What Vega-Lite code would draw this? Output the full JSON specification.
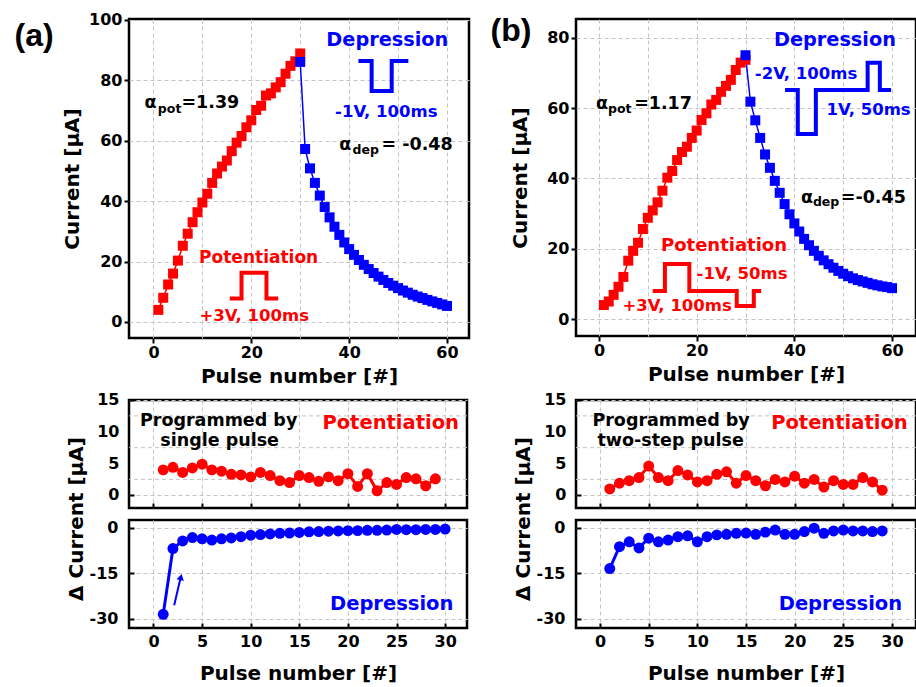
{
  "$schema": "https://vega.github.io/schema/vega-lite/v6.json",
  "background": "white",
  "padding": {"left": 13, "top": 10, "right": 2, "bottom": 2},
  "config": {
    "font": "DejaVu Sans",
    "view": {"stroke": "black", "strokeWidth": 2.5},
    "axis": {"domain": false, "grid": true, "gridColor": "#c4c4c4", "gridDash": [4, 3], "gridWidth": 1,
      "labelFont": "DejaVu Sans", "labelFontWeight": "bold", "labelFontSize": 16, "labelColor": "black",
      "titleFont": "DejaVu Sans", "titleFontWeight": "bold", "titleFontSize": 20, "titleColor": "black",
      "tickColor": "black", "tickWidth": 2, "labelFlush": false, "labelOverlap": false},
    "text": {"font": "DejaVu Sans", "fontWeight": "bold"}
  },
  "datasets": {
    "minor_grid": [{"g": 2.5}, {"g": 7.5}, {"g": 12.5}],
    "ylab_upper": [{"v": 0}, {"v": 5}, {"v": 10}, {"v": 15}],
    "a_main": [
      {"pulse":1,"current":4.0,"phase":"Potentiation"},{"pulse":2,"current":8.0,"phase":"Potentiation"},{"pulse":3,"current":12.4,"phase":"Potentiation"},{"pulse":4,"current":16.0,"phase":"Potentiation"},{"pulse":5,"current":20.3,"phase":"Potentiation"},{"pulse":6,"current":25.2,"phase":"Potentiation"},{"pulse":7,"current":29.2,"phase":"Potentiation"},{"pulse":8,"current":33.0,"phase":"Potentiation"},{"pulse":9,"current":36.3,"phase":"Potentiation"},{"pulse":10,"current":39.5,"phase":"Potentiation"},
      {"pulse":11,"current":42.4,"phase":"Potentiation"},{"pulse":12,"current":46.0,"phase":"Potentiation"},{"pulse":13,"current":49.1,"phase":"Potentiation"},{"pulse":14,"current":51.4,"phase":"Potentiation"},{"pulse":15,"current":53.4,"phase":"Potentiation"},{"pulse":16,"current":56.5,"phase":"Potentiation"},{"pulse":17,"current":59.3,"phase":"Potentiation"},{"pulse":18,"current":61.5,"phase":"Potentiation"},{"pulse":19,"current":64.4,"phase":"Potentiation"},{"pulse":20,"current":66.7,"phase":"Potentiation"},
      {"pulse":21,"current":70.1,"phase":"Potentiation"},{"pulse":22,"current":71.5,"phase":"Potentiation"},{"pulse":23,"current":74.9,"phase":"Potentiation"},{"pulse":24,"current":75.6,"phase":"Potentiation"},{"pulse":25,"current":77.6,"phase":"Potentiation"},{"pulse":26,"current":79.3,"phase":"Potentiation"},{"pulse":27,"current":82.1,"phase":"Potentiation"},{"pulse":28,"current":84.7,"phase":"Potentiation"},{"pulse":29,"current":86.2,"phase":"Potentiation"},{"pulse":30,"current":88.8,"phase":"Potentiation"},
      {"pulse":30,"current":86.0,"phase":"Depression"},{"pulse":31,"current":57.2,"phase":"Depression"},{"pulse":32,"current":50.8,"phase":"Depression"},{"pulse":33,"current":46.0,"phase":"Depression"},{"pulse":34,"current":41.8,"phase":"Depression"},{"pulse":35,"current":38.0,"phase":"Depression"},{"pulse":36,"current":34.6,"phase":"Depression"},{"pulse":37,"current":31.5,"phase":"Depression"},{"pulse":38,"current":28.8,"phase":"Depression"},{"pulse":39,"current":26.3,"phase":"Depression"},
      {"pulse":40,"current":24.1,"phase":"Depression"},{"pulse":41,"current":22.2,"phase":"Depression"},{"pulse":42,"current":20.5,"phase":"Depression"},{"pulse":43,"current":18.9,"phase":"Depression"},{"pulse":44,"current":17.5,"phase":"Depression"},{"pulse":45,"current":16.2,"phase":"Depression"},{"pulse":46,"current":15.0,"phase":"Depression"},{"pulse":47,"current":13.9,"phase":"Depression"},{"pulse":48,"current":12.9,"phase":"Depression"},{"pulse":49,"current":12.0,"phase":"Depression"},
      {"pulse":50,"current":11.2,"phase":"Depression"},{"pulse":51,"current":10.4,"phase":"Depression"},{"pulse":52,"current":9.7,"phase":"Depression"},{"pulse":53,"current":9.0,"phase":"Depression"},{"pulse":54,"current":8.4,"phase":"Depression"},{"pulse":55,"current":7.9,"phase":"Depression"},{"pulse":56,"current":7.3,"phase":"Depression"},{"pulse":57,"current":6.8,"phase":"Depression"},{"pulse":58,"current":6.3,"phase":"Depression"},{"pulse":59,"current":5.8,"phase":"Depression"},{"pulse":60,"current":5.3,"phase":"Depression"}
    ],
    "b_main": [
      {"pulse":1,"current":4.0,"phase":"Potentiation"},{"pulse":2,"current":5.0,"phase":"Potentiation"},{"pulse":3,"current":6.9,"phase":"Potentiation"},{"pulse":4,"current":9.2,"phase":"Potentiation"},{"pulse":5,"current":12.0,"phase":"Potentiation"},{"pulse":6,"current":16.6,"phase":"Potentiation"},{"pulse":7,"current":19.4,"phase":"Potentiation"},{"pulse":8,"current":21.7,"phase":"Potentiation"},{"pulse":9,"current":25.6,"phase":"Potentiation"},{"pulse":10,"current":28.8,"phase":"Potentiation"},
      {"pulse":11,"current":30.9,"phase":"Potentiation"},{"pulse":12,"current":33.2,"phase":"Potentiation"},{"pulse":13,"current":36.5,"phase":"Potentiation"},{"pulse":14,"current":40.2,"phase":"Potentiation"},{"pulse":15,"current":42.1,"phase":"Potentiation"},{"pulse":16,"current":45.2,"phase":"Potentiation"},{"pulse":17,"current":47.5,"phase":"Potentiation"},{"pulse":18,"current":49.0,"phase":"Potentiation"},{"pulse":19,"current":51.5,"phase":"Potentiation"},{"pulse":20,"current":53.6,"phase":"Potentiation"},
      {"pulse":21,"current":56.6,"phase":"Potentiation"},{"pulse":22,"current":58.5,"phase":"Potentiation"},{"pulse":23,"current":61.0,"phase":"Potentiation"},{"pulse":24,"current":62.3,"phase":"Potentiation"},{"pulse":25,"current":64.6,"phase":"Potentiation"},{"pulse":26,"current":66.3,"phase":"Potentiation"},{"pulse":27,"current":68.0,"phase":"Potentiation"},{"pulse":28,"current":70.8,"phase":"Potentiation"},{"pulse":29,"current":72.9,"phase":"Potentiation"},{"pulse":30,"current":73.7,"phase":"Potentiation"},
      {"pulse":30,"current":75.0,"phase":"Depression"},{"pulse":31,"current":61.8,"phase":"Depression"},{"pulse":32,"current":56.5,"phase":"Depression"},{"pulse":33,"current":51.5,"phase":"Depression"},{"pulse":34,"current":46.8,"phase":"Depression"},{"pulse":35,"current":43.0,"phase":"Depression"},{"pulse":36,"current":39.3,"phase":"Depression"},{"pulse":37,"current":35.9,"phase":"Depression"},{"pulse":38,"current":32.7,"phase":"Depression"},{"pulse":39,"current":29.8,"phase":"Depression"},
      {"pulse":40,"current":27.2,"phase":"Depression"},{"pulse":41,"current":24.9,"phase":"Depression"},{"pulse":42,"current":22.8,"phase":"Depression"},{"pulse":43,"current":21.0,"phase":"Depression"},{"pulse":44,"current":19.4,"phase":"Depression"},{"pulse":45,"current":18.0,"phase":"Depression"},{"pulse":46,"current":16.7,"phase":"Depression"},{"pulse":47,"current":15.6,"phase":"Depression"},{"pulse":48,"current":14.6,"phase":"Depression"},{"pulse":49,"current":13.7,"phase":"Depression"},
      {"pulse":50,"current":12.9,"phase":"Depression"},{"pulse":51,"current":12.2,"phase":"Depression"},{"pulse":52,"current":11.6,"phase":"Depression"},{"pulse":53,"current":11.1,"phase":"Depression"},{"pulse":54,"current":10.7,"phase":"Depression"},{"pulse":55,"current":10.3,"phase":"Depression"},{"pulse":56,"current":9.9,"phase":"Depression"},{"pulse":57,"current":9.6,"phase":"Depression"},{"pulse":58,"current":9.3,"phase":"Depression"},{"pulse":59,"current":9.1,"phase":"Depression"},{"pulse":60,"current":8.8,"phase":"Depression"}
    ],
    "a_pot": [
      {"pulse":1,"delta":4.0},{"pulse":2,"delta":4.4},{"pulse":3,"delta":3.6},{"pulse":4,"delta":4.3},{"pulse":5,"delta":4.9},{"pulse":6,"delta":4.0},{"pulse":7,"delta":3.8},{"pulse":8,"delta":3.3},{"pulse":9,"delta":3.2},{"pulse":10,"delta":2.9},
      {"pulse":11,"delta":3.6},{"pulse":12,"delta":3.1},{"pulse":13,"delta":2.3},{"pulse":14,"delta":2.0},{"pulse":15,"delta":3.1},{"pulse":16,"delta":2.8},{"pulse":17,"delta":2.2},{"pulse":18,"delta":2.9},{"pulse":19,"delta":2.3},{"pulse":20,"delta":3.4},
      {"pulse":21,"delta":1.4},{"pulse":22,"delta":3.4},{"pulse":23,"delta":0.7},{"pulse":24,"delta":2.0},{"pulse":25,"delta":1.7},{"pulse":26,"delta":2.8},{"pulse":27,"delta":2.6},{"pulse":28,"delta":1.5},{"pulse":29,"delta":2.6}
    ],
    "a_dep": [
      {"pulse":1,"delta":-28.5},{"pulse":2,"delta":-6.8},{"pulse":3,"delta":-4.3},{"pulse":4,"delta":-3.2},{"pulse":5,"delta":-3.6},{"pulse":6,"delta":-4.0},{"pulse":7,"delta":-3.6},{"pulse":8,"delta":-3.3},{"pulse":9,"delta":-2.9},{"pulse":10,"delta":-2.4},
      {"pulse":11,"delta":-2.2},{"pulse":12,"delta":-2.0},{"pulse":13,"delta":-1.8},{"pulse":14,"delta":-1.7},{"pulse":15,"delta":-1.5},{"pulse":16,"delta":-1.3},{"pulse":17,"delta":-1.2},{"pulse":18,"delta":-1.1},{"pulse":19,"delta":-1.0},{"pulse":20,"delta":-0.9},
      {"pulse":21,"delta":-0.9},{"pulse":22,"delta":-0.8},{"pulse":23,"delta":-0.8},{"pulse":24,"delta":-0.7},{"pulse":25,"delta":-0.5},{"pulse":26,"delta":-0.6},{"pulse":27,"delta":-0.6},{"pulse":28,"delta":-0.5},{"pulse":29,"delta":-0.5},{"pulse":30,"delta":-0.4}
    ],
    "b_pot": [
      {"pulse":1,"delta":1.0},{"pulse":2,"delta":1.9},{"pulse":3,"delta":2.3},{"pulse":4,"delta":2.8},{"pulse":5,"delta":4.6},{"pulse":6,"delta":2.8},{"pulse":7,"delta":2.3},{"pulse":8,"delta":3.9},{"pulse":9,"delta":3.2},{"pulse":10,"delta":2.1},
      {"pulse":11,"delta":2.3},{"pulse":12,"delta":3.3},{"pulse":13,"delta":3.7},{"pulse":14,"delta":1.9},{"pulse":15,"delta":3.1},{"pulse":16,"delta":2.3},{"pulse":17,"delta":1.5},{"pulse":18,"delta":2.5},{"pulse":19,"delta":2.1},{"pulse":20,"delta":3.0},
      {"pulse":21,"delta":1.9},{"pulse":22,"delta":2.5},{"pulse":23,"delta":1.3},{"pulse":24,"delta":2.3},{"pulse":25,"delta":1.7},{"pulse":26,"delta":1.7},{"pulse":27,"delta":2.8},{"pulse":28,"delta":2.1},{"pulse":29,"delta":0.8}
    ],
    "b_dep": [
      {"pulse":1,"delta":-13.4},{"pulse":2,"delta":-6.2},{"pulse":3,"delta":-4.6},{"pulse":4,"delta":-6.6},{"pulse":5,"delta":-3.4},{"pulse":6,"delta":-4.6},{"pulse":7,"delta":-4.0},{"pulse":8,"delta":-2.9},{"pulse":9,"delta":-2.6},{"pulse":10,"delta":-4.6},
      {"pulse":11,"delta":-2.9},{"pulse":12,"delta":-2.3},{"pulse":13,"delta":-2.1},{"pulse":14,"delta":-1.8},{"pulse":15,"delta":-1.7},{"pulse":16,"delta":-2.1},{"pulse":17,"delta":-1.4},{"pulse":18,"delta":-0.7},{"pulse":19,"delta":-2.1},{"pulse":20,"delta":-2.1},
      {"pulse":21,"delta":-1.2},{"pulse":22,"delta":-0.1},{"pulse":23,"delta":-1.8},{"pulse":24,"delta":-1.0},{"pulse":25,"delta":-0.7},{"pulse":26,"delta":-1.0},{"pulse":27,"delta":-1.0},{"pulse":28,"delta":-1.2},{"pulse":29,"delta":-1.0}
    ]
  },
  "hconcat": [
    {
      "vconcat": [
        {
          "width": 340, "height": 319,
          "data": {"name": "a_main"},
          "layer": [
            {"mark": {"type": "line", "strokeWidth": 1.5},
             "encoding": {
               "x": {"field": "pulse", "type": "quantitative", "scale": {"domain": [-5, 64.5], "nice": false, "zero": false},
                     "axis": {"values": [0,10,20,30,40,50,60], "labelExpr": "datum.value % 20 === 0 ? datum.label : ''", "labelOverlap": false, "tickOpacity": {"condition": {"test": "datum.value % 20 === 0", "value": 1}, "value": 0}, "tickSize": 5, "labelPadding": 1, "title": "Pulse number [#]", "titlePadding": 6}},
               "y": {"field": "current", "type": "quantitative", "scale": {"domain": [-5.3, 100.2], "nice": false, "zero": false},
                     "axis": {"values": [0,10,20,30,40,50,60,70,80,90,100], "labelExpr": "datum.value % 20 === 0 ? datum.label : ''", "labelOverlap": false, "tickOpacity": {"condition": {"test": "datum.value % 20 === 0", "value": 1}, "value": 0}, "tickSize": 5, "labelPadding": 2, "title": "Current [μA]", "titlePadding": 6}},
               "color": {"field": "phase", "type": "nominal", "scale": {"domain": ["Potentiation", "Depression"], "range": ["#ff0000", "#0000ff"]}, "legend": null}
             }},
            {"mark": {"type": "point", "shape": "square", "filled": true, "size": 100, "opacity": 1},
             "encoding": {
               "x": {"field": "pulse", "type": "quantitative"},
               "y": {"field": "current", "type": "quantitative"},
               "color": {"field": "phase", "type": "nominal", "legend": null}
             }},
            {"data": {"values": [{"px": 41.9, "py": 86.3, "o": 1}, {"px": 44.6, "py": 86.3, "o": 2}, {"px": 44.6, "py": 76.4, "o": 3}, {"px": 48.7, "py": 76.4, "o": 4}, {"px": 48.7, "py": 86.3, "o": 5}, {"px": 52.1, "py": 86.3, "o": 6}]},
             "mark": {"type": "line", "color": "#0000ff", "strokeWidth": 4, "strokeJoin": "miter", "strokeCap": "butt"},
             "encoding": {"x": {"field": "px", "type": "quantitative"}, "y": {"field": "py", "type": "quantitative"}, "order": {"field": "o"}}},
            {"data": {"values": [{"px": 15.6, "py": 7.8, "o": 1}, {"px": 18.0, "py": 7.8, "o": 2}, {"px": 18.0, "py": 16.3, "o": 3}, {"px": 23.1, "py": 16.3, "o": 4}, {"px": 23.1, "py": 7.8, "o": 5}, {"px": 25.5, "py": 7.8, "o": 6}]},
             "mark": {"type": "line", "color": "#ff0000", "strokeWidth": 4, "strokeJoin": "miter", "strokeCap": "butt"},
             "encoding": {"x": {"field": "px", "type": "quantitative"}, "y": {"field": "py", "type": "quantitative"}, "order": {"field": "o"}}},
            {"data": {"values": [{}]}, "mark": {"type": "text", "text": "(a)", "font": "Liberation Sans", "fontSize": 32, "color": "black", "align": "center", "baseline": "middle"},
             "encoding": {"x": {"datum": -24.4, "type": "quantitative"}, "y": {"datum": 94.6, "type": "quantitative"}}},
            {"data": {"values": [{}]}, "mark": {"type": "text", "text": "α", "fontSize": 17.5, "color": "black", "align": "left", "baseline": "alphabetic"},
             "encoding": {"x": {"datum": -1.84, "type": "quantitative"}, "y": {"datum": 70.9, "type": "quantitative"}}},
            {"data": {"values": [{}]}, "mark": {"type": "text", "text": "pot", "fontSize": 12.5, "color": "black", "align": "left", "baseline": "alphabetic"},
             "encoding": {"x": {"datum": 0.9, "type": "quantitative"}, "y": {"datum": 69.1, "type": "quantitative"}}},
            {"data": {"values": [{}]}, "mark": {"type": "text", "text": "=1.39", "fontSize": 17.5, "color": "black", "align": "left", "baseline": "alphabetic"},
             "encoding": {"x": {"datum": 5.72, "type": "quantitative"}, "y": {"datum": 70.9, "type": "quantitative"}}},
            {"data": {"values": [{}]}, "mark": {"type": "text", "text": "α", "fontSize": 17.5, "color": "black", "align": "left", "baseline": "alphabetic"},
             "encoding": {"x": {"datum": 38.0, "type": "quantitative"}, "y": {"datum": 56.9, "type": "quantitative"}}},
            {"data": {"values": [{}]}, "mark": {"type": "text", "text": "dep", "fontSize": 12.5, "color": "black", "align": "left", "baseline": "alphabetic"},
             "encoding": {"x": {"datum": 40.7, "type": "quantitative"}, "y": {"datum": 55.6, "type": "quantitative"}}},
            {"data": {"values": [{}]}, "mark": {"type": "text", "text": "= -0.48", "fontSize": 17.5, "color": "black", "align": "left", "baseline": "alphabetic"},
             "encoding": {"x": {"datum": 46.6, "type": "quantitative"}, "y": {"datum": 56.9, "type": "quantitative"}}},
            {"data": {"values": [{}]}, "mark": {"type": "text", "text": "Depression", "fontSize": 19.3, "color": "#0000ff", "align": "center", "baseline": "alphabetic"},
             "encoding": {"x": {"datum": 47.8, "type": "quantitative"}, "y": {"datum": 91.3, "type": "quantitative"}}},
            {"data": {"values": [{}]}, "mark": {"type": "text", "text": "-1V, 100ms", "fontSize": 16.5, "color": "#0000ff", "align": "center", "baseline": "alphabetic"},
             "encoding": {"x": {"datum": 47.6, "type": "quantitative"}, "y": {"datum": 67.8, "type": "quantitative"}}},
            {"data": {"values": [{}]}, "mark": {"type": "text", "text": "Potentiation", "fontSize": 17, "color": "#ff0000", "align": "center", "baseline": "alphabetic"},
             "encoding": {"x": {"datum": 21.5, "type": "quantitative"}, "y": {"datum": 19.5, "type": "quantitative"}}},
            {"data": {"values": [{}]}, "mark": {"type": "text", "text": "+3V, 100ms", "fontSize": 16.5, "color": "#ff0000", "align": "center", "baseline": "alphabetic"},
             "encoding": {"x": {"datum": 20.6, "type": "quantitative"}, "y": {"datum": 0.3, "type": "quantitative"}}}
          ]
        },
        {
          "vconcat": [
            {
              "width": 338, "height": 108,
              "data": {"name": "a_pot"},
              "layer": [
                {"data": {"name": "minor_grid"}, "mark": {"type": "rule", "color": "#c4c4c4", "strokeDash": [4, 3], "strokeWidth": 1},
                 "encoding": {"y": {"field": "g", "type": "quantitative"}}},
                {"mark": {"type": "line", "color": "#ff0000", "strokeWidth": 3},
                 "encoding": {
                   "x": {"field": "pulse", "type": "quantitative", "scale": {"domain": [-2.52, 32.25], "nice": false, "zero": false},
                         "axis": {"values": [0,2.5,5,7.5,10,12.5,15,17.5,20,22.5,25,27.5,30], "labels": false, "tickOpacity": {"condition": {"test": "datum.value % 5 === 0", "value": 1}, "value": 0}, "tickSize": -5, "title": null}},
                   "y": {"field": "delta", "type": "quantitative", "scale": {"domain": [-2, 15], "nice": false, "zero": false},
                         "axis": {"values": [0,5,10,15], "labels": false, "tickSize": -5, "title": null}}
                 }},
                {"mark": {"type": "circle", "color": "#ff0000", "size": 120, "opacity": 1},
                 "encoding": {"x": {"field": "pulse", "type": "quantitative"}, "y": {"field": "delta", "type": "quantitative"}}},
                {"data": {"name": "ylab_upper"}, "mark": {"type": "text", "fontSize": 16, "color": "black", "align": "right", "baseline": "middle"},
                 "encoding": {"x": {"datum": -3.5, "type": "quantitative"}, "y": {"field": "v", "type": "quantitative"}, "text": {"field": "v", "type": "quantitative", "format": "d"}}},
                {"data": {"values": [{}]}, "mark": {"type": "text", "text": "Δ Current [μA]", "fontSize": 20, "color": "black", "align": "center", "baseline": "middle", "angle": 270},
                 "encoding": {"x": {"datum": -7.9, "type": "quantitative"}, "y": {"datum": -3.73, "type": "quantitative"}}},
                {"data": {"values": [{}]}, "mark": {"type": "text", "text": "Programmed by", "fontSize": 17.5, "color": "black", "align": "center", "baseline": "alphabetic"},
                 "encoding": {"x": {"datum": 6.7, "type": "quantitative"}, "y": {"datum": 10.9, "type": "quantitative"}}},
                {"data": {"values": [{}]}, "mark": {"type": "text", "text": "single pulse", "fontSize": 17.5, "color": "black", "align": "center", "baseline": "alphabetic"},
                 "encoding": {"x": {"datum": 6.8, "type": "quantitative"}, "y": {"datum": 7.8, "type": "quantitative"}}},
                {"data": {"values": [{}]}, "mark": {"type": "text", "text": "Potentiation", "fontSize": 19.5, "color": "#ff0000", "align": "center", "baseline": "alphabetic"},
                 "encoding": {"x": {"datum": 24.4, "type": "quantitative"}, "y": {"datum": 10.4, "type": "quantitative"}}}
              ]
            },
            {
              "width": 338, "height": 108,
              "data": {"name": "a_dep"},
              "layer": [
                {"mark": {"type": "line", "color": "#0000ff", "strokeWidth": 3},
                 "encoding": {
                   "x": {"field": "pulse", "type": "quantitative", "scale": {"domain": [-2.52, 32.25], "nice": false, "zero": false},
                         "axis": {"values": [0,2.5,5,7.5,10,12.5,15,17.5,20,22.5,25,27.5,30], "labelExpr": "datum.value % 5 === 0 ? '' + datum.value : ''", "labelOverlap": false, "labelFontSize": {"condition": {"test": "datum.value % 5 === 0", "value": 16}, "value": 1}, "tickOpacity": {"condition": {"test": "datum.value % 5 === 0", "value": 1}, "value": 0}, "tickSize": -5, "labelPadding": 10, "title": "Pulse number [#]", "titlePadding": 14}},
                   "y": {"field": "delta", "type": "quantitative", "scale": {"domain": [-33, 2.6], "nice": false, "zero": false},
                         "axis": {"values": [-30,-22.5,-15,-7.5,0], "labelExpr": "datum.value % 15 === 0 ? '' + datum.value : ''", "labelOverlap": false, "labelFontSize": {"condition": {"test": "datum.value % 15 === 0", "value": 16}, "value": 1}, "tickOpacity": {"condition": {"test": "datum.value % 15 === 0", "value": 1}, "value": 0}, "tickSize": -5, "labelPadding": 16, "title": null}}
                 }},
                {"mark": {"type": "circle", "color": "#0000ff", "size": 120, "opacity": 1},
                 "encoding": {"x": {"field": "pulse", "type": "quantitative"}, "y": {"field": "delta", "type": "quantitative"}}},
                {"data": {"values": [{"px": 2.13, "py": -25.5, "o": 1}, {"px": 2.78, "py": -16.5, "o": 2}]},
                 "mark": {"type": "line", "color": "#0000ff", "strokeWidth": 2},
                 "encoding": {"x": {"field": "px", "type": "quantitative"}, "y": {"field": "py", "type": "quantitative"}, "order": {"field": "o"}}},
                {"data": {"values": [{"px": 2.82, "py": -16.2}]},
                 "mark": {"type": "point", "shape": "triangle-up", "filled": true, "size": 55, "color": "#0000ff", "opacity": 1, "angle": 13},
                 "encoding": {"x": {"field": "px", "type": "quantitative"}, "y": {"field": "py", "type": "quantitative"}}},
                {"data": {"values": [{}]}, "mark": {"type": "text", "text": "Depression", "fontSize": 19.5, "color": "#0000ff", "align": "center", "baseline": "alphabetic"},
                 "encoding": {"x": {"datum": 24.5, "type": "quantitative"}, "y": {"datum": -27.1, "type": "quantitative"}}}
              ]
            }
          ],
          "spacing": 12, "bounds": "flush"
        }
      ],
      "spacing": 62, "bounds": "flush"
    },
    {
      "vconcat": [
        {
          "width": 340, "height": 317,
          "data": {"name": "b_main"},
          "layer": [
            {"mark": {"type": "line", "strokeWidth": 1.5},
             "encoding": {
               "x": {"field": "pulse", "type": "quantitative", "scale": {"domain": [-4.7, 64.9], "nice": false, "zero": false},
                     "axis": {"values": [0,10,20,30,40,50,60], "labelExpr": "datum.value % 20 === 0 ? datum.label : ''", "labelOverlap": false, "tickOpacity": {"condition": {"test": "datum.value % 20 === 0", "value": 1}, "value": 0}, "tickSize": 5, "labelPadding": 1, "title": "Pulse number [#]", "titlePadding": 6}},
               "y": {"field": "current", "type": "quantitative", "scale": {"domain": [-4.8, 85.3], "nice": false, "zero": false},
                     "axis": {"values": [0,10,20,30,40,50,60,70,80], "labelExpr": "datum.value % 20 === 0 ? datum.label : ''", "labelOverlap": false, "tickOpacity": {"condition": {"test": "datum.value % 20 === 0", "value": 1}, "value": 0}, "tickSize": 5, "labelPadding": 2, "title": "Current [μA]", "titlePadding": 16}},
               "color": {"field": "phase", "type": "nominal", "scale": {"domain": ["Potentiation", "Depression"], "range": ["#ff0000", "#0000ff"]}, "legend": null}
             }},
            {"mark": {"type": "point", "shape": "square", "filled": true, "size": 100, "opacity": 1},
             "encoding": {
               "x": {"field": "pulse", "type": "quantitative"},
               "y": {"field": "current", "type": "quantitative"},
               "color": {"field": "phase", "type": "nominal", "legend": null}
             }},
            {"data": {"values": [{"px": 38.1, "py": 65.1, "o": 1}, {"px": 40.7, "py": 65.1, "o": 2}, {"px": 40.7, "py": 52.6, "o": 3}, {"px": 44.4, "py": 52.6, "o": 4}, {"px": 44.4, "py": 65.1, "o": 5}, {"px": 55.0, "py": 65.1, "o": 6}, {"px": 55.0, "py": 72.9, "o": 7}, {"px": 57.5, "py": 72.9, "o": 8}, {"px": 57.5, "py": 65.1, "o": 9}, {"px": 59.8, "py": 65.1, "o": 10}]},
             "mark": {"type": "line", "color": "#0000ff", "strokeWidth": 4, "strokeJoin": "miter", "strokeCap": "butt"},
             "encoding": {"x": {"field": "px", "type": "quantitative"}, "y": {"field": "py", "type": "quantitative"}, "order": {"field": "o"}}},
            {"data": {"values": [{"px": 11.0, "py": 8.0, "o": 1}, {"px": 13.5, "py": 8.0, "o": 2}, {"px": 13.5, "py": 15.7, "o": 3}, {"px": 18.5, "py": 15.7, "o": 4}, {"px": 18.5, "py": 8.0, "o": 5}, {"px": 28.2, "py": 8.0, "o": 6}, {"px": 28.2, "py": 3.7, "o": 7}, {"px": 31.7, "py": 3.7, "o": 8}, {"px": 31.7, "py": 8.0, "o": 9}, {"px": 33.2, "py": 8.0, "o": 10}]},
             "mark": {"type": "line", "color": "#ff0000", "strokeWidth": 4, "strokeJoin": "miter", "strokeCap": "butt"},
             "encoding": {"x": {"field": "px", "type": "quantitative"}, "y": {"field": "py", "type": "quantitative"}, "order": {"field": "o"}}},
            {"data": {"values": [{}]}, "mark": {"type": "text", "text": "(b)", "font": "Liberation Sans", "fontSize": 32, "color": "black", "align": "center", "baseline": "middle"},
             "encoding": {"x": {"datum": -18.0, "type": "quantitative"}, "y": {"datum": 81.9, "type": "quantitative"}}},
            {"data": {"values": [{}]}, "mark": {"type": "text", "text": "α", "fontSize": 17.5, "color": "black", "align": "left", "baseline": "alphabetic"},
             "encoding": {"x": {"datum": -0.61, "type": "quantitative"}, "y": {"datum": 59.7, "type": "quantitative"}}},
            {"data": {"values": [{}]}, "mark": {"type": "text", "text": "pot", "fontSize": 12.5, "color": "black", "align": "left", "baseline": "alphabetic"},
             "encoding": {"x": {"datum": 1.85, "type": "quantitative"}, "y": {"datum": 58.6, "type": "quantitative"}}},
            {"data": {"values": [{}]}, "mark": {"type": "text", "text": "=1.17", "fontSize": 17.5, "color": "black", "align": "left", "baseline": "alphabetic"},
             "encoding": {"x": {"datum": 7.2, "type": "quantitative"}, "y": {"datum": 59.7, "type": "quantitative"}}},
            {"data": {"values": [{}]}, "mark": {"type": "text", "text": "α", "fontSize": 17.5, "color": "black", "align": "left", "baseline": "alphabetic"},
             "encoding": {"x": {"datum": 41.35, "type": "quantitative"}, "y": {"datum": 33.1, "type": "quantitative"}}},
            {"data": {"values": [{}]}, "mark": {"type": "text", "text": "dep", "fontSize": 12.5, "color": "black", "align": "left", "baseline": "alphabetic"},
             "encoding": {"x": {"datum": 43.8, "type": "quantitative"}, "y": {"datum": 32.1, "type": "quantitative"}}},
            {"data": {"values": [{}]}, "mark": {"type": "text", "text": "=-0.45", "fontSize": 17.5, "color": "black", "align": "left", "baseline": "alphabetic"},
             "encoding": {"x": {"datum": 49.5, "type": "quantitative"}, "y": {"datum": 33.1, "type": "quantitative"}}},
            {"data": {"values": [{}]}, "mark": {"type": "text", "text": "Depression", "fontSize": 19.3, "color": "#0000ff", "align": "center", "baseline": "alphabetic"},
             "encoding": {"x": {"datum": 48.3, "type": "quantitative"}, "y": {"datum": 77.7, "type": "quantitative"}}},
            {"data": {"values": [{}]}, "mark": {"type": "text", "text": "-2V, 100ms", "fontSize": 16.5, "color": "#0000ff", "align": "center", "baseline": "alphabetic"},
             "encoding": {"x": {"datum": 42.4, "type": "quantitative"}, "y": {"datum": 68.2, "type": "quantitative"}}},
            {"data": {"values": [{}]}, "mark": {"type": "text", "text": "1V, 50ms", "fontSize": 16.5, "color": "#0000ff", "align": "center", "baseline": "alphabetic"},
             "encoding": {"x": {"datum": 55.2, "type": "quantitative"}, "y": {"datum": 58.0, "type": "quantitative"}}},
            {"data": {"values": [{}]}, "mark": {"type": "text", "text": "Potentiation", "fontSize": 18, "color": "#ff0000", "align": "center", "baseline": "alphabetic"},
             "encoding": {"x": {"datum": 25.6, "type": "quantitative"}, "y": {"datum": 19.3, "type": "quantitative"}}},
            {"data": {"values": [{}]}, "mark": {"type": "text", "text": "-1V, 50ms", "fontSize": 16.5, "color": "#ff0000", "align": "center", "baseline": "alphabetic"},
             "encoding": {"x": {"datum": 29.3, "type": "quantitative"}, "y": {"datum": 11.4, "type": "quantitative"}}},
            {"data": {"values": [{}]}, "mark": {"type": "text", "text": "+3V, 100ms", "fontSize": 16.5, "color": "#ff0000", "align": "center", "baseline": "alphabetic"},
             "encoding": {"x": {"datum": 16.0, "type": "quantitative"}, "y": {"datum": 2.3, "type": "quantitative"}}}
          ]
        },
        {
          "vconcat": [
            {
              "width": 340, "height": 108,
              "data": {"name": "b_pot"},
              "layer": [
                {"data": {"name": "minor_grid"}, "mark": {"type": "rule", "color": "#c4c4c4", "strokeDash": [4, 3], "strokeWidth": 1},
                 "encoding": {"y": {"field": "g", "type": "quantitative"}}},
                {"mark": {"type": "line", "color": "#ff0000", "strokeWidth": 3},
                 "encoding": {
                   "x": {"field": "pulse", "type": "quantitative", "scale": {"domain": [-2.47, 32.47], "nice": false, "zero": false},
                         "axis": {"values": [0,2.5,5,7.5,10,12.5,15,17.5,20,22.5,25,27.5,30], "labels": false, "tickOpacity": {"condition": {"test": "datum.value % 5 === 0", "value": 1}, "value": 0}, "tickSize": -5, "title": null}},
                   "y": {"field": "delta", "type": "quantitative", "scale": {"domain": [-2, 15], "nice": false, "zero": false},
                         "axis": {"values": [0,5,10,15], "labels": false, "tickSize": -5, "title": null}}
                 }},
                {"mark": {"type": "circle", "color": "#ff0000", "size": 120, "opacity": 1},
                 "encoding": {"x": {"field": "pulse", "type": "quantitative"}, "y": {"field": "delta", "type": "quantitative"}}},
                {"data": {"name": "ylab_upper"}, "mark": {"type": "text", "fontSize": 16, "color": "black", "align": "right", "baseline": "middle"},
                 "encoding": {"x": {"datum": -3.45, "type": "quantitative"}, "y": {"field": "v", "type": "quantitative"}, "text": {"field": "v", "type": "quantitative", "format": "d"}}},
                {"data": {"values": [{}]}, "mark": {"type": "text", "text": "Δ Current [μA]", "fontSize": 20, "color": "black", "align": "center", "baseline": "middle", "angle": 270},
                 "encoding": {"x": {"datum": -7.8, "type": "quantitative"}, "y": {"datum": -3.73, "type": "quantitative"}}},
                {"data": {"values": [{}]}, "mark": {"type": "text", "text": "Programmed by", "fontSize": 17.5, "color": "black", "align": "center", "baseline": "alphabetic"},
                 "encoding": {"x": {"datum": 7.3, "type": "quantitative"}, "y": {"datum": 10.9, "type": "quantitative"}}},
                {"data": {"values": [{}]}, "mark": {"type": "text", "text": "two-step pulse", "fontSize": 17.5, "color": "black", "align": "center", "baseline": "alphabetic"},
                 "encoding": {"x": {"datum": 7.25, "type": "quantitative"}, "y": {"datum": 7.8, "type": "quantitative"}}},
                {"data": {"values": [{}]}, "mark": {"type": "text", "text": "Potentiation", "fontSize": 19.5, "color": "#ff0000", "align": "center", "baseline": "alphabetic"},
                 "encoding": {"x": {"datum": 24.6, "type": "quantitative"}, "y": {"datum": 10.4, "type": "quantitative"}}}
              ]
            },
            {
              "width": 340, "height": 108,
              "data": {"name": "b_dep"},
              "layer": [
                {"mark": {"type": "line", "color": "#0000ff", "strokeWidth": 3},
                 "encoding": {
                   "x": {"field": "pulse", "type": "quantitative", "scale": {"domain": [-2.47, 32.47], "nice": false, "zero": false},
                         "axis": {"values": [0,2.5,5,7.5,10,12.5,15,17.5,20,22.5,25,27.5,30], "labelExpr": "datum.value % 5 === 0 ? '' + datum.value : ''", "labelOverlap": false, "labelFontSize": {"condition": {"test": "datum.value % 5 === 0", "value": 16}, "value": 1}, "tickOpacity": {"condition": {"test": "datum.value % 5 === 0", "value": 1}, "value": 0}, "tickSize": -5, "labelPadding": 10, "title": "Pulse number [#]", "titlePadding": 14}},
                   "y": {"field": "delta", "type": "quantitative", "scale": {"domain": [-33, 2.6], "nice": false, "zero": false},
                         "axis": {"values": [-30,-22.5,-15,-7.5,0], "labelExpr": "datum.value % 15 === 0 ? '' + datum.value : ''", "labelOverlap": false, "labelFontSize": {"condition": {"test": "datum.value % 15 === 0", "value": 16}, "value": 1}, "tickOpacity": {"condition": {"test": "datum.value % 15 === 0", "value": 1}, "value": 0}, "tickSize": -5, "labelPadding": 16, "title": null}}
                 }},
                {"mark": {"type": "circle", "color": "#0000ff", "size": 120, "opacity": 1},
                 "encoding": {"x": {"field": "pulse", "type": "quantitative"}, "y": {"field": "delta", "type": "quantitative"}}},
                {"data": {"values": [{}]}, "mark": {"type": "text", "text": "Depression", "fontSize": 19.5, "color": "#0000ff", "align": "center", "baseline": "alphabetic"},
                 "encoding": {"x": {"datum": 24.7, "type": "quantitative"}, "y": {"datum": -27.1, "type": "quantitative"}}}
              ]
            }
          ],
          "spacing": 12, "bounds": "flush"
        }
      ],
      "spacing": 64, "bounds": "flush"
    }
  ],
  "spacing": 18
}
